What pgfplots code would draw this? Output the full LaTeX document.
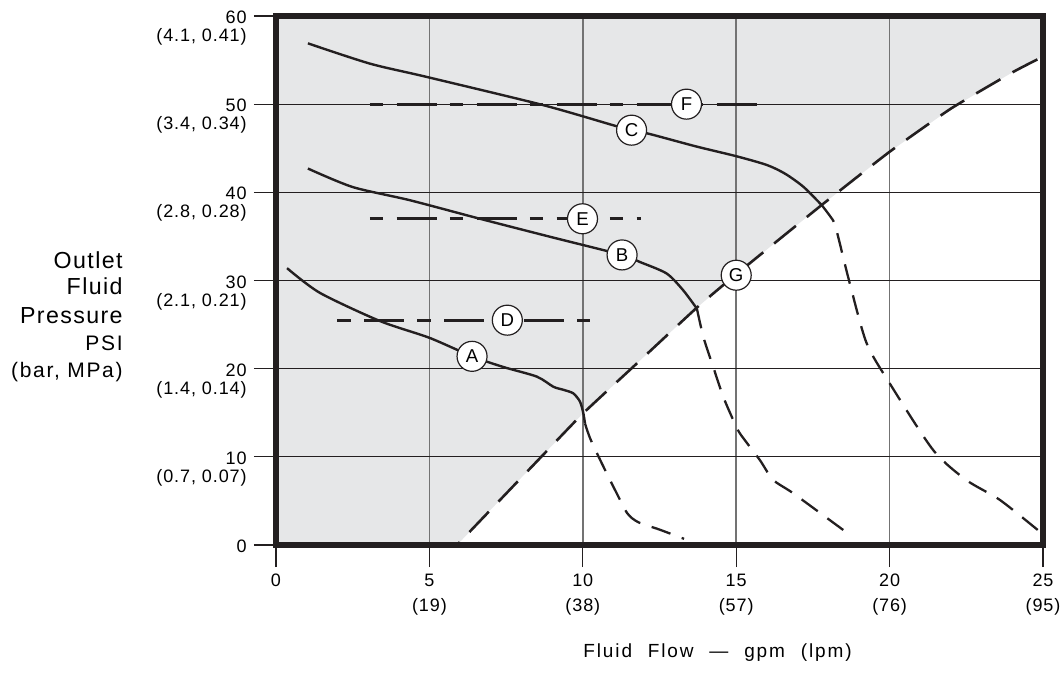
\documentclass[border=0pt]{standalone}
\usepackage{fontspec}
\setmainfont{Liberation Sans}
\newfontfamily\tickfont[LetterSpace=5]{Liberation Sans}
\newfontfamily\bigfont[LetterSpace=6]{Liberation Sans}
\newfontfamily\smallfont[LetterSpace=8]{Liberation Sans}
\newfontfamily\xlabfont[LetterSpace=10,WordSpace=2.2]{Liberation Sans}
\newfontfamily\circfont{Liberation Sans}
\usepackage{pgfplots}
\pgfplotsset{compat=1.18}
\definecolor{ink}{HTML}{231F20}
\definecolor{shade}{HTML}{E6E7E8}
\newcommand{\yl}[2]{#1\makebox[0pt][r]{\raisebox{-9pt}[0pt][0pt]{#2}}}
\newcommand{\xl}[2]{\makebox[0pt][c]{#1}\makebox[0pt][c]{\raisebox{-12.5pt}[0pt][0pt]{#2}}}
\tikzset{
  lbl/.style={circle, draw=ink, line width=0.6pt, fill=white, minimum size=15pt, inner sep=0pt, font=\circfont\fontsize{9.3}{9.3}\selectfont},
  solidc/.style={ink, line width=1.2pt, smooth, tension=0.45},
  dashc/.style={ink, line width=1.15pt, smooth, tension=0.45, dash pattern=on 10pt off 6pt},
  hline/.style={ink, line width=1.35pt, dash pattern=on 6.67pt off 6.67pt on 20pt off 6.67pt},
}
\begin{document}
\begin{tikzpicture}
\begin{axis}[
  at={(0,0)}, anchor=south west,
  scale only axis, width=383.5pt, height=264.5pt,
  xmin=0, xmax=25, ymin=0, ymax=60,
  set layers,
  axis line style={line width=2.6pt, ink},
  tick pos=left, tick align=outside,
  major tick length=11pt,
  tick style={line width=0.6pt, ink},
  xtick={0,5,10,15,20,25},
  ytick={0,10,20,30,40,50,60},
  xticklabels={{\xl{0}{}},{\xl{5}{(19)}},{\xl{10}{(38)}},{\xl{15}{(57)}},{\xl{20}{(76)}},{\xl{25}{(95)}}},
  yticklabels={{\yl{0}{}},{\yl{10}{(0.7, 0.07)}},{\yl{20}{(1.4, 0.14)}},{\yl{30}{(2.1, 0.21)}},{\yl{40}{(2.8, 0.28)}},{\yl{50}{(3.4, 0.34)}},{\yl{60}{(4.1, 0.41)}}},
  ticklabel style={font=\tickfont\fontsize{9}{9.5}\selectfont, inner sep=0pt},
  xticklabel style={anchor=base, yshift=-9.5pt},
  yticklabel style={anchor=base east, xshift=-3.5pt, yshift=-3.8pt},
  grid=major,
  x grid style={line width=0.75pt, color=black!55},
  y grid style={line width=0.55pt, color=ink},
]
% shaded region above line G
\addplot[on layer=axis background, fill=shade, draw=none] coordinates {
 (0,0) (5.9,0) (8.7,10.2) (10,14.9) (11.64,20.2) (13.71,26.9) (15,30.7) (17.8,38.6) (20,44.6) (22,49.5) (24,53.6) (25,55.4) (25,60) (0,60)} -- cycle;
% line G
\addplot[ink, line width=1.3pt, dash pattern=on 14pt off 7pt, dash phase=12pt, smooth, tension=0.3] coordinates {
 (5.9,0) (8.7,10.2) (10,14.9) (11.64,20.2) (13.71,26.9) (15,30.7) (17.8,38.6) (20,44.6) (22,49.5) (24,53.6) (25,55.4)};
% horizontal lines D, E, F
\addplot[hline] coordinates {(2.0,25.5) (10.23,25.5)};
\addplot[hline] coordinates {(3.06,37.0) (11.9,37.0)};
\addplot[hline] coordinates {(3.06,50.0) (15.7,50.0)};
% curve A
\addplot[solidc] coordinates {
 (0.36,31.4) (1.43,28.6) (3.39,25.4) (5.0,23.5) (6.39,21.4) (7.4,20.2) (8.5,19.1) (9.04,17.95) (9.37,17.6) (9.69,17.2) (9.91,16.25) (10.02,14.9) (10.07,13.8)};
\addplot[dashc] coordinates {
 (10.07,13.8) (10.25,12.0) (10.67,8.9) (11.1,5.9) (11.45,3.6) (11.8,2.6) (12.5,1.75) (13.3,0.7)};
% curve B
\addplot[solidc] coordinates {
 (1.04,42.7) (2.5,40.6) (4.37,39.1) (6.65,37.0) (9.0,34.9) (11.28,32.9) (11.86,32.1) (12.73,30.8) (13.27,28.9) (13.72,26.8)};
\addplot[dashc] coordinates {
 (13.72,26.8) (13.93,23.6) (14.25,20.2) (14.58,16.8) (14.9,14.2) (15.12,12.66) (15.77,9.64) (16.2,7.4) (16.86,5.86) (18.49,1.7)};
% curve C
\addplot[solidc] coordinates {
 (1.04,56.9) (3.06,54.6) (4.9,53.1) (8.7,49.9) (11.0,47.6) (11.59,47.05) (12.2,46.6) (13.7,45.2) (15.0,44.1) (16.0,43.1) (16.6,42.1) (17.2,40.6) (17.8,38.5)};
\addplot[dashc] coordinates {
 (17.8,38.5) (18.16,36.8) (18.27,35.7) (18.7,29.7) (19.25,22.9) (20.0,18.35) (21.42,10.77) (22.5,7.37) (23.6,5.1) (24.9,1.5)};
% labels
\node[lbl] at (axis cs:6.39,21.4) {A};
\node[lbl] at (axis cs:11.28,32.9) {B};
\node[lbl] at (axis cs:11.59,47.05) {C};
\node[lbl] at (axis cs:7.54,25.5) {D};
\node[lbl] at (axis cs:9.99,37.0) {E};
\node[lbl] at (axis cs:13.38,50.0) {F};
\node[lbl] at (axis cs:15.0,30.6) {G};
\end{axis}
% y axis title
\node[anchor=base east, inner sep=0pt, font=\bigfont\fontsize{11.6}{12}\selectfont] at (-76.5pt,138.5pt) {Outlet};
\node[anchor=base east, inner sep=0pt, font=\bigfont\fontsize{11.6}{12}\selectfont] at (-76.5pt,125pt) {Fluid};
\node[anchor=base east, inner sep=0pt, font=\bigfont\fontsize{11.6}{12}\selectfont] at (-76.5pt,111pt) {Pressure};
\node[anchor=base east, inner sep=0pt, font=\smallfont\fontsize{10.5}{11}\selectfont] at (-76.5pt,97.5pt) {PSI};
\node[anchor=base east, inner sep=0pt, font=\smallfont\fontsize{10.5}{11}\selectfont] at (-76.5pt,84pt) {(bar, MPa)};
% x axis title
\node[anchor=base, inner sep=0pt, font=\xlabfont\fontsize{9.5}{10}\selectfont] at (220.75pt,-56pt) {Fluid Flow — gpm (lpm)};
\pgfresetboundingbox
\path[use as bounding box] (-138pt,-65pt) rectangle (394pt,272.5pt);
\end{tikzpicture}
\end{document}
